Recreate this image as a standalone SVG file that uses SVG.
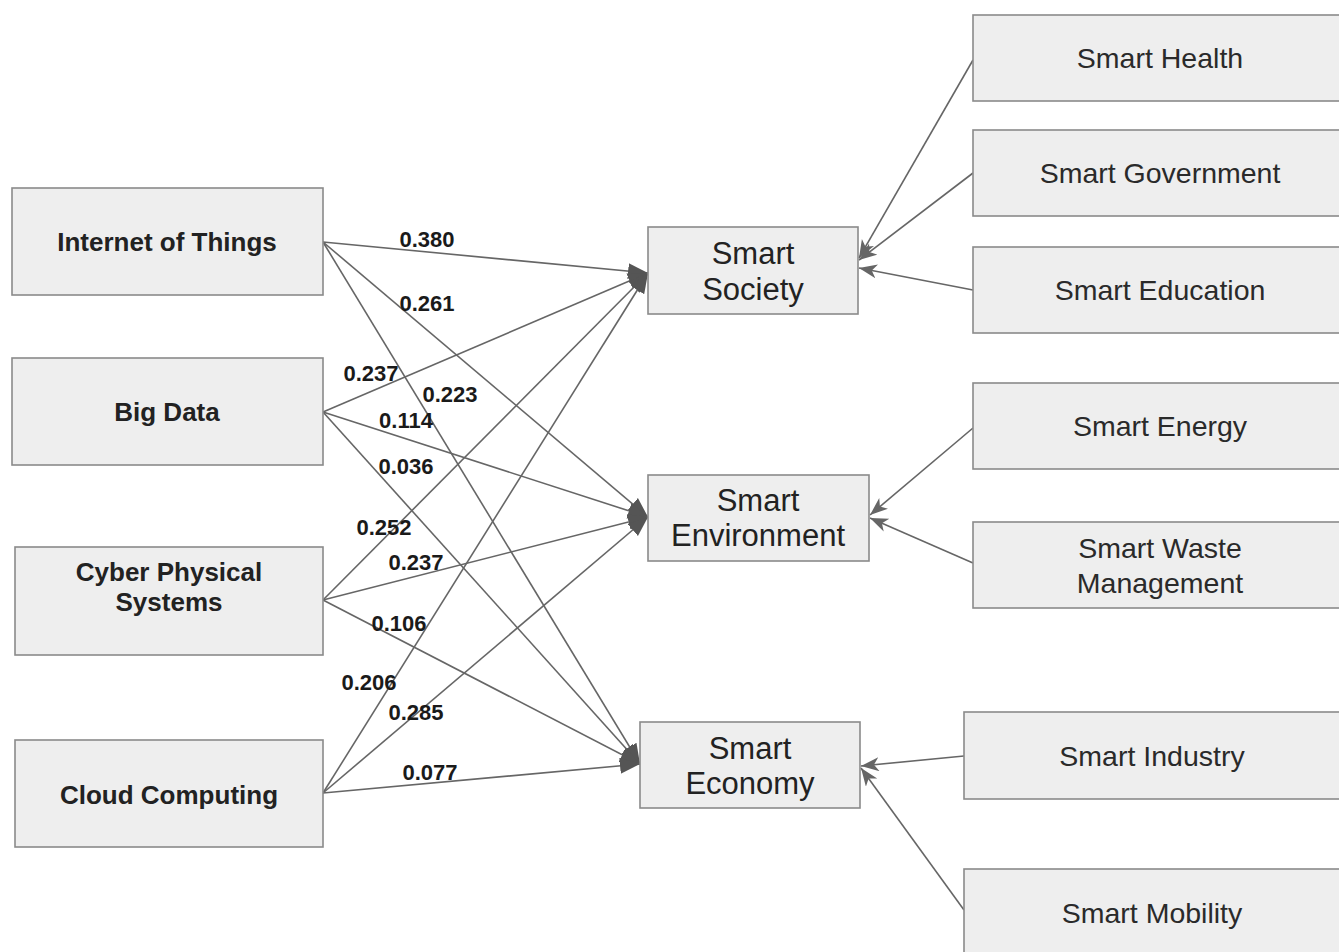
<svg xmlns="http://www.w3.org/2000/svg" width="1339" height="952" viewBox="0 0 1339 952">
<style>
.box{fill:#eeeeee;stroke:#8a8a8a;stroke-width:1.6}
.lb{font-family:"Liberation Sans",Arial,sans-serif;font-weight:bold;font-size:26px;fill:#222;text-anchor:middle}
.md{font-family:"Liberation Sans",Arial,sans-serif;font-size:31px;fill:#222;text-anchor:middle}
.rt{font-family:"Liberation Sans",Arial,sans-serif;font-size:28.5px;fill:#2a2a2a;text-anchor:middle}
.num{font-family:"Liberation Sans",Arial,sans-serif;font-weight:bold;font-size:22px;fill:#1a1a1a;text-anchor:middle}
.ln{stroke:#666;stroke-width:1.6;fill:none}
.l1{marker-end:url(#ah)}
.l2{marker-end:url(#ah2)}
</style>
<defs>
<marker id="ah" markerUnits="userSpaceOnUse" markerWidth="22" markerHeight="18" refX="20" refY="8" orient="auto">
<path d="M0,0 L20,8 L0,16 z" fill="#555"/>
</marker>
<marker id="ah2" markerUnits="userSpaceOnUse" markerWidth="20" markerHeight="16" refX="18" refY="7" orient="auto">
<path d="M0,0 L18,7 L0,14 L5,7 z" fill="#666"/>
</marker>
</defs>
<rect width="1339" height="952" fill="#ffffff"/>

<g id="connectors">
<line class="ln l1" x1="323" y1="242" x2="648" y2="273"/>
<line class="ln l1" x1="323" y1="242" x2="648" y2="517"/>
<line class="ln l1" x1="323" y1="242" x2="640" y2="764"/>
<line class="ln l1" x1="323" y1="412" x2="648" y2="273"/>
<line class="ln l1" x1="323" y1="412" x2="648" y2="517"/>
<line class="ln l1" x1="323" y1="412" x2="640" y2="764"/>
<line class="ln l1" x1="323" y1="600" x2="648" y2="273"/>
<line class="ln l1" x1="323" y1="600" x2="648" y2="517"/>
<line class="ln l1" x1="323" y1="600" x2="640" y2="764"/>
<line class="ln l1" x1="323" y1="793" x2="648" y2="273"/>
<line class="ln l1" x1="323" y1="793" x2="648" y2="517"/>
<line class="ln l1" x1="323" y1="793" x2="640" y2="764"/>

<line class="ln l2" x1="973" y1="60" x2="859" y2="258"/>
<line class="ln l2" x1="973" y1="173" x2="859" y2="260"/>
<line class="ln l2" x1="973" y1="290" x2="859" y2="268"/>
<line class="ln l2" x1="973" y1="428" x2="870" y2="515"/>
<line class="ln l2" x1="973" y1="563" x2="870" y2="518"/>
<line class="ln l2" x1="964" y1="756" x2="861" y2="766"/>
<line class="ln l2" x1="964" y1="910" x2="861" y2="768"/>

<text class="num" x="427" y="247">0.380</text>
<text class="num" x="427" y="311">0.261</text>
<text class="num" x="450" y="402">0.223</text>
<text class="num" x="371" y="381">0.237</text>
<text class="num" x="406" y="428">0.114</text>
<text class="num" x="406" y="474">0.036</text>
<text class="num" x="384" y="535">0.252</text>
<text class="num" x="416" y="570">0.237</text>
<text class="num" x="399" y="631">0.106</text>
<text class="num" x="369" y="690">0.206</text>
<text class="num" x="416" y="720">0.285</text>
<text class="num" x="430" y="780">0.077</text>
</g>

<g id="iot"><rect class="box" x="12" y="188" width="311" height="107"/><text class="lb" x="167" y="251">Internet of Things</text></g>
<g id="bigdata"><rect class="box" x="12" y="358" width="311" height="107"/><text class="lb" x="167" y="421">Big Data</text></g>
<g id="cps"><rect class="box" x="15" y="547" width="308" height="108"/><text class="lb" x="169" y="581">Cyber Physical</text><text class="lb" x="169" y="611">Systems</text></g>
<g id="cloud"><rect class="box" x="15" y="740" width="308" height="107"/><text class="lb" x="169" y="804">Cloud Computing</text></g>

<g id="society"><rect class="box" x="648" y="227" width="210" height="87"/><text class="md" x="753" y="264">Smart</text><text class="md" x="753" y="300">Society</text></g>
<g id="environment"><rect class="box" x="648" y="475" width="221" height="86"/><text class="md" x="758" y="511">Smart</text><text class="md" x="758" y="546">Environment</text></g>
<g id="economy"><rect class="box" x="640" y="722" width="220" height="86"/><text class="md" x="750" y="759">Smart</text><text class="md" x="750" y="794">Economy</text></g>

<g id="health"><rect class="box" x="973" y="15" width="372" height="86"/><text class="rt" x="1160" y="68">Smart Health</text></g>
<g id="government"><rect class="box" x="973" y="130" width="372" height="86"/><text class="rt" x="1160" y="183">Smart Government</text></g>
<g id="education"><rect class="box" x="973" y="247" width="372" height="86"/><text class="rt" x="1160" y="300">Smart Education</text></g>
<g id="energy"><rect class="box" x="973" y="383" width="372" height="86"/><text class="rt" x="1160" y="436">Smart Energy</text></g>
<g id="waste"><rect class="box" x="973" y="522" width="372" height="86"/><text class="rt" x="1160" y="558">Smart Waste</text><text class="rt" x="1160" y="593">Management</text></g>
<g id="industry"><rect class="box" x="964" y="712" width="381" height="87"/><text class="rt" x="1152" y="766">Smart Industry</text></g>
<g id="mobility"><rect class="box" x="964" y="869" width="381" height="100"/><text class="rt" x="1152" y="923">Smart Mobility</text></g>
</svg>
